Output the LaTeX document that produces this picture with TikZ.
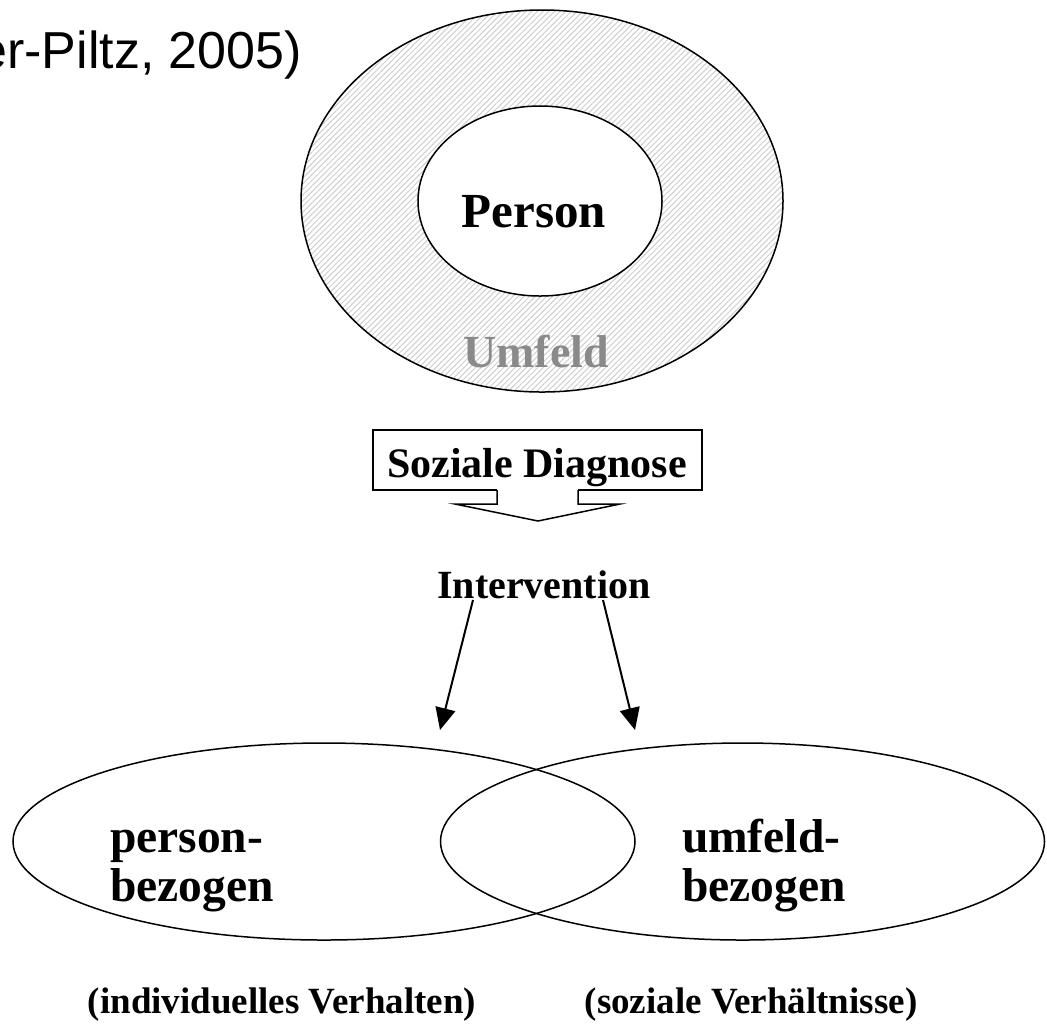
\documentclass[tikz,border=0pt]{standalone}
\usepackage{fontspec}
\setmainfont{Liberation Serif}
\newfontfamily\sansf{Liberation Sans}
\usetikzlibrary{shapes.geometric,arrows.meta,patterns.meta}
\definecolor{umfeldgray}{HTML}{8A8A8A}
\definecolor{hatchgray}{HTML}{CFCFCF}
\tikzset{
  ring/.style={ellipse, draw, line width=0.75pt, inner sep=0pt, outer sep=0pt},
  lbl/.style={inner sep=0pt, outer sep=0pt},
  pointer/.style={line width=1pt, -{Triangle[length=11pt,width=10pt]}},
}
\begin{document}
\begin{tikzpicture}[x=0.5pt,y=-0.5pt]
\clip (0,0) rectangle (1047,1024);
\fill[white] (0,0) rectangle (1047,1024);

% citation (cut at the left edge, as in the reference)
\node[lbl, anchor=base east, font=\sansf\fontsize{26}{30}\selectfont] (cite) at (302,68)
  {er-Piltz, 2005)};

% Umfeld / Person
\node[ring, minimum width=241pt, minimum height=191pt,
  pattern={Lines[angle=45,distance=2pt,line width=0.5pt]}, pattern color=hatchgray]
  (outer) at (542,201) {};
\node[ring, fill=white, minimum width=122pt, minimum height=95pt] (inner) at (540,201) {};
\node[lbl, anchor=base, font=\bfseries\fontsize{24.5}{28}\selectfont] (person) at (534,227) {Person};
\node[lbl, anchor=base, text=umfeldgray, font=\bfseries\fontsize{23}{27}\selectfont] (umfeld) at (536,367) {Umfeld};

% Soziale Diagnose box and block arrow
\draw[line width=0.75pt] (373,430) rectangle (702,490);
\node[lbl, anchor=base, font=\bfseries\fontsize{21}{25}\selectfont] (diag) at (537,477) {Soziale Diagnose};
\fill[white] (497,489) rectangle (578,491);
\draw[line width=0.75pt, fill=white, line join=miter]
  (497,490) -- (497,504) -- (455,504) -- (538,521) -- (620,504) -- (578,504) -- (578,490);

% Intervention
\node[lbl, anchor=base, font=\bfseries\fontsize{20}{24}\selectfont] (interv) at (544,598) {Intervention};
\coordinate (ia) at (473,600);
\coordinate (ib) at (603,600);
\coordinate (ta) at (440,730);
\coordinate (tb) at (635,730);
\draw[pointer] (ia) -- (ta);
\draw[pointer] (ib) -- (tb);

% bottom ellipses
\node[ring, minimum width=311pt, minimum height=98.5pt] (left) at (324,841.5) {};
\node[ring, minimum width=302pt, minimum height=98.5pt] (right) at (742.5,841.5) {};
\node[lbl, anchor=base west, align=left, font=\bfseries\fontsize{23.75}{24.5}\selectfont] (pb) at (110,901)
  {person-\\bezogen};
\node[lbl, anchor=base west, align=left, font=\bfseries\fontsize{23.75}{24.5}\selectfont] (ub) at (682,901)
  {umfeld-\\bezogen};

% captions
\node[lbl, anchor=base, font=\bfseries\fontsize{18.5}{22}\selectfont] (indiv) at (282,1013) {(individuelles Verhalten)};
\node[lbl, anchor=base, font=\bfseries\fontsize{18.5}{22}\selectfont] (sozial) at (751,1013) {(soziale Verhältnisse)};
\end{tikzpicture}
\end{document}
